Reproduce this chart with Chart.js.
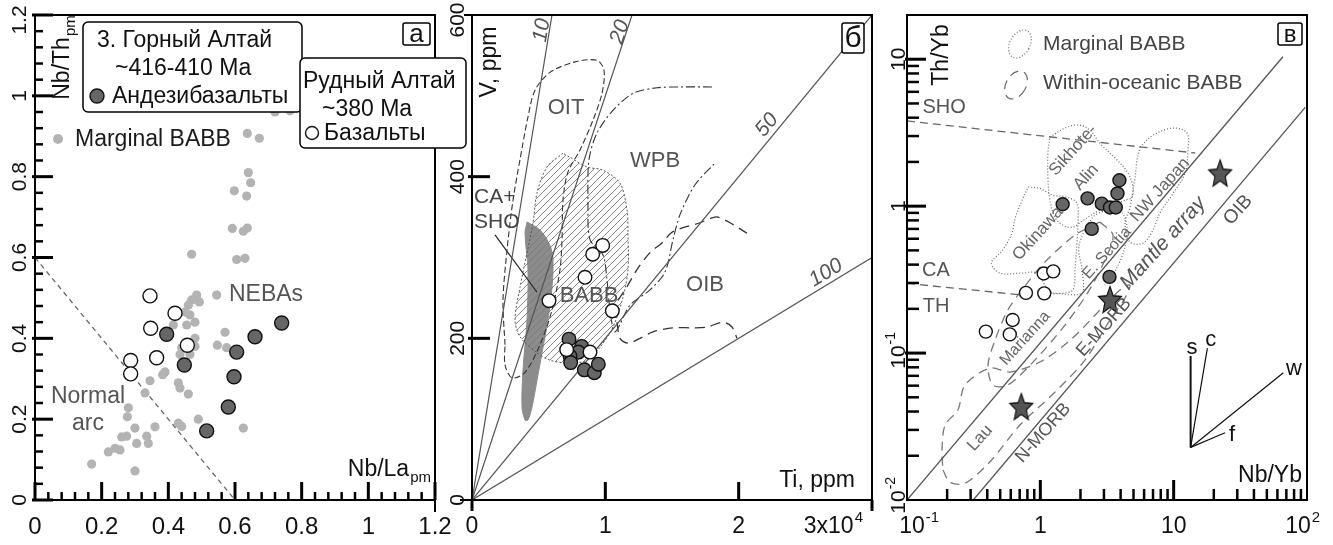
<!DOCTYPE html>
<html>
<head>
<meta charset="utf-8">
<script src="https://cdn.jsdelivr.net/npm/chart.js@4.4.1/dist/chart.umd.min.js"></script>
<style>
html, body { margin: 0; padding: 0; background: #fff; }
#wrap { position: relative; width: 1333px; height: 545px; overflow: hidden; }
canvas { position: absolute; left: 0; top: 0; }
</style>
</head>
<body>
<div id="wrap">
  <canvas id="ca" width="1333" height="545"></canvas>
  <canvas id="cb" width="1333" height="545"></canvas>
  <canvas id="cc" width="1333" height="545"></canvas>
</div>
<script>
// ---------- panel а : Nb/Th_pm vs Nb/La_pm ----------
const aBabbX = [0.637,0.673,0.72,0.765,0.64,0.647,0.598,0.635,0.592,0.637,0.625,0.47,0.605,0.63,
  0.545,0.485,0.47,0.493,0.46,0.45,0.465,0.415,0.48,0.455,0.48,0.57,0.44,0.435,0.48,0.465,0.547,0.575,
  0.39,0.383,0.345,0.43,0.435,0.33,0.46,0.28,0.277,0.49,0.43,0.44,0.30,0.36,0.625,0.275,0.26,0.335,
  0.34,0.305,0.255,0.24,0.22,0.17,0.30];
const aBabbY = [0.907,0.895,0.96,0.963,0.81,0.785,0.765,0.752,0.672,0.673,0.665,0.608,0.595,0.598,
  0.507,0.507,0.495,0.49,0.482,0.465,0.458,0.433,0.44,0.433,0.40,0.415,0.377,0.36,0.38,0.36,0.383,0.377,
  0.317,0.31,0.295,0.29,0.277,0.265,0.262,0.228,0.206,0.20,0.19,0.182,0.178,0.181,0.178,0.158,0.156,0.158,
  0.14,0.14,0.124,0.128,0.119,0.089,0.072];
const aAndesX = [0.74,0.66,0.395,0.605,0.448,0.597,0.58,0.515];
const aAndesY = [0.438,0.404,0.41,0.366,0.334,0.305,0.23,0.171];
const aBasX = [0.345,0.42,0.347,0.457,0.365,0.287,0.287];
const aBasY = [0.505,0.462,0.425,0.383,0.352,0.345,0.312];
const aArcX = [0, 0.6];
const aArcY = [0.6, 0];
const aTicks = [0, 0.2, 0.4, 0.6, 0.8, 1, 1.2];
const aTickLabels = ['0', '0.2', '0.4', '0.6', '0.8', '1', '1.2'];

// ---------- panel б : V vs Ti ----------
const bBasTi = [9800, 9050, 8475, 5775, 10525, 7100, 8850];
const bBasV = [315, 304, 275.5, 246.6, 234, 186, 183];
const bAndesTi = [7275, 8225, 7975, 7350, 7400, 8425, 9175, 9475];
const bAndesV = [199, 190, 183, 178, 170, 161, 157.5, 168];
const bRatios = [10, 20, 50, 100];
const bRatioLabels = ['10', '20', '50', '100'];
const bRatioLabelTi = [5250, 11100, 22125, 26550];
const bRatioLabelV = [581, 579, 464, 281];
const oitTi = [2475,2325,2625,3075,3600,4200,4725,5850,7725,9375,9900,9750,9075,8100,7200,6825,6750,6600,6000,5100,3975,3000,2475,2475];
const oitV = [192,247,309,371,421,474,507,529,542,544,532,503,470,433,406,371,322,285,235,192,158,151,167,192];
const wpbTi = [18000,15600,13875,12075,10575,9375,8775,8700,8850,9825,10125,10350,10725,11850,13350,14475,15075,15600,16725,18225];
const wpbV = [511,511,510,503,482,454,421,371,322,303,272,235,208,241,260,282,322,353,390,417];
const oibUpTi = [10950,11625,12375,13350,14250,15075,17100,18000,18450,19350,20625];
const oibUpV = [247,264,285,306,318,332,343,349,350,343,330];
const oibLoTi = [10875,11100,11700,12600,13575,15075,16575,17625,18825,19500,19875];
const oibLoV = [220,200,194,200,208,213,213,214,220,214,200];
const babbTi = [6825,5625,4875,4575,3600,3225,3600,4875,5850,7350,8625,9600,10575,11325,11700,11700,11625,11100,9825,8625,7350,6825];
const babbV = [429,412,380,343,263,223,202,182,173,169,173,189,214,251,285,330,359,392,408,412,424,429];
const caShoTi = [4125,5100,5850,6075,6000,5700,5250,4875,4500,4200,3975,3750,3825,4125,4200,3975,4125];
const caShoV = [344,334,315,297,263,223,182,148,115,99,99,115,161,223,285,330,344];
const bPtrTi = [1725, 4875];
const bPtrV = [328, 257];
const bXTicks = [0, 10000, 20000];
const bXTickLabels = ['0', '1', '2'];
const bYTicks = [0, 200, 400, 600];
const bYTickLabels = ['0', '200', '400', '600'];

// ---------- panel в : Th/Yb vs Nb/Yb ----------
const cAndesX = [1.47, 2.26, 2.89, 3.33, 3.68, 3.79, 3.92, 2.43, 3.3];
const cAndesY = [1.03, 1.13, 1.04, 0.98, 0.98, 1.22, 1.5, 0.70, 0.33];
const cBasX = [0.78, 1.07, 1.06, 1.25, 0.62, 0.59, 0.39];
const cBasY = [0.257, 0.255, 0.348, 0.36, 0.168, 0.134, 0.14];
const cStarX = [22.3, 3.33, 0.72];      // OIB, E-MORB, N-MORB
const cStarY = [1.67, 0.23, 0.043];
const mantleUpX = [0.1, 66], mantleUpY = [0.01, 10.4];
const mantleLoX = [0.314, 97], mantleLoY = [0.01, 4.7];
const shoCaX = [0.1, 14.5], shoCaY = [3.8, 2.3];
const caThX = [0.1, 0.75], caThY = [0.298, 0.248];
const sikhX = [1.18,1.58,1.98,2.36,2.80,3.76,4.55,4.95,4.87,4.32,2.80,2.09,1.76,1.48,1.29,1.18,1.14,1.14,1.18];
const sikhY = [2.95,3.44,3.56,3.29,2.68,2.06,1.68,1.35,1.15,1.10,0.94,0.80,0.72,0.74,0.84,1.10,1.57,2.30,2.95];
const okinX = [0.81,0.99,1.24,1.58,1.88,1.92,1.88,1.82,1.76,1.48,1.18,0.94,0.73,0.50,0.43,0.52,0.61,0.65,0.73,0.81];
const okinY = [1.35,1.32,1.19,1.15,1.05,0.80,0.56,0.37,0.27,0.256,0.26,0.35,0.35,0.35,0.41,0.50,0.65,0.84,1.10,1.35];
const nwjX = [5.59,7.00,9.89,12.6,12.8,12.2,9.89,7.90,7.00,5.89,4.70,4.32,4.70,5.13,5.31,5.59];
const nwjY = [2.52,3.04,3.40,3.14,2.40,1.68,1.22,0.90,0.69,0.56,0.57,0.77,0.98,1.57,2.06,2.52];
const scotX = [1.24,2.05,2.05,1.95,2.48,3.22,4.10,4.47,4.24,3.69,3.05];
const scotY = [0.256,0.256,0.37,0.54,0.84,0.94,0.90,0.71,0.50,0.37,0.29];
const marX = [2.80,3.51,3.05,2.28,1.53,0.91,0.57,0.44,0.405,0.457,0.57,0.73,1.08,1.82,2.80];
const marY = [0.78,0.635,0.43,0.26,0.155,0.0896,0.0606,0.0606,0.0828,0.122,0.196,0.27,0.416,0.635,0.78];
const lauX = [0.186,0.21,0.272,0.419,0.704,1.29,2.16,3.33,4.32,4.70,3.96,2.80,1.67,0.99,0.59,0.419,0.272,0.241,0.193,0.183,0.186];
const lauY = [0.016,0.0132,0.0130,0.0182,0.0324,0.0543,0.0896,0.168,0.237,0.290,0.269,0.196,0.122,0.0869,0.0743,0.079,0.0606,0.041,0.0324,0.0219,0.016];
const vecX0 = 13.4, vecY0 = 0.0228;
const vecNames = ['s', 'c', 'w', 'f'];
const vecX = [13.4, 17.9, 66.5, 24.3];
const vecY = [0.0955, 0.108, 0.0735, 0.0287];
const vecLabelX = [13.7, 19.0, 79.9, 27.4];
const vecLabelY = [0.108, 0.122, 0.0778, 0.0277];
const cXMajor = [1, 10];
const cYMajor = [0.1, 1, 10];

// ---------- helpers ----------
const FONT = '"Liberation Sans", Arial, sans-serif';
const pts = (xs, ys) => xs.map((x, i) => ({ x: x, y: ys[i] }));

function pointSet(xs, ys, fill, border, r) {
  return {
    data: pts(xs, ys), showLine: false, order: 0,
    pointRadius: r, pointBackgroundColor: fill,
    pointBorderColor: border || fill, pointBorderWidth: border ? 1.4 : 0
  };
}
function lineSet(xs, ys, color, dash, width, extra) {
  return Object.assign({
    data: pts(xs, ys), showLine: true, pointRadius: 0, order: 10,
    borderColor: color, borderWidth: width, borderDash: dash, fill: false, tension: 0
  }, extra || {});
}
function txt(ctx, s, x, y, size, o) {
  o = o || {};
  ctx.save();
  ctx.font = (o.italic ? 'italic ' : '') + (o.bold ? 'bold ' : '') + size + 'px ' + FONT;
  ctx.fillStyle = o.color || '#111';
  ctx.textAlign = o.align || 'center';
  ctx.textBaseline = 'middle';
  ctx.translate(x, y);
  if (o.rot) ctx.rotate(o.rot * Math.PI / 180);
  ctx.fillText(s, 0, 0);
  ctx.restore();
}
// base text followed by a small super/subscript
function rich(ctx, base, small, up, x, y, size, o) {
  o = o || {};
  const ss = Math.round(size * 0.66);
  ctx.save();
  ctx.translate(x, y);
  if (o.rot) ctx.rotate(o.rot * Math.PI / 180);
  ctx.font = size + 'px ' + FONT;
  const w1 = ctx.measureText(base).width;
  ctx.font = ss + 'px ' + FONT;
  const w2 = ctx.measureText(small).width;
  let x0 = -(w1 + w2) / 2;
  if (o.align === 'right') x0 = -(w1 + w2);
  if (o.align === 'left') x0 = 0;
  if (o.align === 'base') x0 = -w1 / 2;
  ctx.fillStyle = o.color || '#111';
  ctx.textAlign = 'left';
  ctx.textBaseline = 'middle';
  ctx.font = size + 'px ' + FONT;
  ctx.fillText(base, x0, 0);
  ctx.font = ss + 'px ' + FONT;
  ctx.fillText(small, x0 + w1 + 1, up ? -size * 0.38 : size * 0.32);
  ctx.restore();
}
function seg(ctx, x1, y1, x2, y2, w, color) {
  ctx.save();
  ctx.beginPath();
  ctx.lineWidth = w;
  ctx.strokeStyle = color || '#000';
  ctx.moveTo(x1, y1);
  ctx.lineTo(x2, y2);
  ctx.stroke();
  ctx.restore();
}
function rbox(ctx, x, y, w, h, r, lw) {
  ctx.save();
  ctx.beginPath();
  if (ctx.roundRect) ctx.roundRect(x, y, w, h, r); else ctx.rect(x, y, w, h);
  ctx.fillStyle = '#fff';
  ctx.fill();
  ctx.lineWidth = lw || 1.5;
  ctx.strokeStyle = '#000';
  ctx.stroke();
  ctx.restore();
}
function dot(ctx, x, y, r, fill, stroke) {
  ctx.save();
  ctx.beginPath();
  ctx.arc(x, y, r, 0, Math.PI * 2);
  ctx.fillStyle = fill;
  ctx.fill();
  if (stroke) { ctx.lineWidth = 1.4; ctx.strokeStyle = stroke; ctx.stroke(); }
  ctx.restore();
}
function frame(ctx, a) {
  ctx.save();
  ctx.lineWidth = 2;
  ctx.strokeStyle = '#000';
  ctx.strokeRect(a.left, a.top, a.right - a.left, a.bottom - a.top);
  ctx.restore();
}
function letterBox(ctx, s, x, y, w, h, size) {
  rbox(ctx, x, y, w, h, 2, 1.5);
  txt(ctx, s, x + w / 2, y + h / 2 + 1, size);
}
function starImage() {
  const c = document.createElement('canvas');
  c.width = 30; c.height = 32;
  const g = c.getContext('2d');
  g.translate(15, 17);
  g.scale(1, 1.2);
  g.beginPath();
  for (let i = 0; i < 10; i++) {
    const ang = -Math.PI / 2 + i * Math.PI / 5;
    const rr = i % 2 ? 5.4 : 12;
    g.lineTo(rr * Math.cos(ang), rr * Math.sin(ang));
  }
  g.closePath();
  g.fillStyle = '#555';
  g.fill();
  g.lineWidth = 1.1;
  g.strokeStyle = '#111';
  g.stroke();
  return c;
}
function hatchPattern() {
  const c = document.createElement('canvas');
  c.width = 7; c.height = 7;
  const g = c.getContext('2d');
  g.strokeStyle = '#7a7a7a';
  g.lineWidth = 0.9;
  g.beginPath();
  g.moveTo(0, 7); g.lineTo(7, 0);
  g.moveTo(-1, 1); g.lineTo(1, -1);
  g.moveTo(6, 8); g.lineTo(8, 6);
  g.stroke();
  return g.createPattern(c, 'repeat');
}
function opts(pad, xScale, yScale) {
  return {
    responsive: false, animation: false, devicePixelRatio: 1, events: [],
    layout: { padding: pad },
    plugins: { legend: { display: false }, tooltip: { enabled: false } },
    scales: { x: xScale, y: yScale }
  };
}

// ---------- panel а ----------
function decoA(chart) {
  const { ctx, chartArea: a, scales: { x, y } } = chart;
  frame(ctx, a);
  seg(ctx, a.right, a.bottom, a.right, a.bottom + 12, 2);
  for (let i = 1; i < 30; i++) {
    if (i % 5 === 0) continue;
    const px = x.getPixelForValue(i * 0.04);
    seg(ctx, px, a.bottom, px, a.bottom - 8, 2.5);
    const py = y.getPixelForValue(i * 0.04);
    seg(ctx, a.left, py, a.left + 8, py, 2.5);
  }
  aTicks.forEach((v, i) => {
    const px = x.getPixelForValue(v), py = y.getPixelForValue(v);
    seg(ctx, px, a.bottom, px, a.bottom - 18, 3);
    seg(ctx, a.left - 3, py, a.left + 18, py, 3);
    txt(ctx, aTickLabels[i], px, a.bottom + 27, 24);
    txt(ctx, aTickLabels[i], a.left - 15, i === aTicks.length - 1 ? py + 5 : py, 21, { rot: -90 });
  });
  rich(ctx, 'Nb/Th', 'pm', false, a.left + 28, a.top + 43, 23, { rot: -90 });
  rich(ctx, 'Nb/La', 'pm', false, a.right - 5, a.bottom - 30, 23, { align: 'right' });
  const g = '#555';
  txt(ctx, 'NEBAs', x.getPixelForValue(0.693), y.getPixelForValue(0.507), 23, { color: g });
  txt(ctx, 'Normal', x.getPixelForValue(0.159), y.getPixelForValue(0.255), 23, { color: g });
  txt(ctx, 'arc', x.getPixelForValue(0.159), y.getPixelForValue(0.188), 23, { color: g });
  // legend
  dot(ctx, a.left + 23, a.top + 124, 5, '#b3b3b3');
  txt(ctx, 'Marginal BABB', a.left + 40, a.top + 125, 23, { align: 'left', color: '#1a1a1a' });
  rbox(ctx, a.left + 48, a.top + 7, 219, 90, 5, 1.5);
  txt(ctx, '3. Горный Алтай', a.left + 62, a.top + 26, 23, { align: 'left' });
  txt(ctx, '~416-410 Ma', a.left + 80, a.top + 54, 23, { align: 'left' });
  dot(ctx, a.left + 62, a.top + 81, 7, '#666', '#111');
  txt(ctx, 'Андезибазальты', a.left + 77, a.top + 82, 23, { align: 'left' });
  rbox(ctx, a.left + 265, a.top + 43, 166, 90, 5, 1.5);
  txt(ctx, 'Рудный Алтай', a.left + 268, a.top + 67, 23, { align: 'left' });
  txt(ctx, '~380 Ma', a.left + 287, a.top + 95, 23, { align: 'left' });
  dot(ctx, a.left + 277, a.top + 118, 6.5, '#fff', '#111');
  txt(ctx, 'Базальты', a.left + 289, a.top + 119, 23, { align: 'left' });
  letterBox(ctx, 'а', a.right - 32, a.top + 8, 27, 22, 26);
}

new Chart(document.getElementById('ca'), {
  type: 'scatter',
  data: {
    datasets: [
      pointSet(aBasX, aBasY, '#fff', '#111', 7),
      pointSet(aAndesX, aAndesY, '#666', '#111', 7),
      Object.assign(pointSet(aBabbX, aBabbY, '#b3b3b3', null, 4.6), { order: 2 }),
      lineSet(aArcX, aArcY, '#666', [5, 4], 1.3)
    ]
  },
  options: opts({ left: 35, top: 15, right: 898, bottom: 45 },
    { type: 'linear', display: false, min: 0, max: 1.2 },
    { type: 'linear', display: false, min: 0, max: 1.2 }),
  plugins: [{ id: 'decoA', afterDatasetsDraw: decoA }]
});

// ---------- panel б ----------
function decoB(chart) {
  const { ctx, chartArea: a, scales: { x, y } } = chart;
  frame(ctx, a);
  bYTicks.forEach((v, i) => {
    const py = y.getPixelForValue(v);
    if (v > 0 && v < 600) seg(ctx, a.left - 4, py, a.left + 18, py, 3);
    let ly = py;
    if (i === bYTicks.length - 1) ly = py + 5;
    txt(ctx, bYTickLabels[i], a.left - 14, ly, 21, { rot: -90 });
  });
  seg(ctx, a.left - 12, a.bottom, a.left, a.bottom, 2);
  seg(ctx, a.left - 8, a.top, a.left, a.top, 2);
  bXTicks.forEach((v, i) => {
    const px = x.getPixelForValue(v);
    if (v > 0) seg(ctx, px, a.bottom, px, a.bottom - 18, 3);
    txt(ctx, bXTickLabels[i], px, a.bottom + 27, 23);
  });
  seg(ctx, a.left, a.bottom, a.left, a.bottom + 11, 3);
  seg(ctx, a.right, a.bottom, a.right, a.bottom + 11, 3);
  rich(ctx, '3x10', '4', true, a.right - 10, a.bottom + 27, 23, { align: 'right' });
  txt(ctx, 'V, ppm', a.left + 18, a.top + 47, 23, { rot: -90 });
  txt(ctx, 'Ti, ppm', a.right - 17, a.bottom - 19, 23, { align: 'right' });
  // ratio labels, rotated along their lines
  bRatios.forEach((r, i) => {
    const ang = Math.atan2(y.getPixelForValue(300) - y.getPixelForValue(0),
      x.getPixelForValue(300 * r) - x.getPixelForValue(0)) * 180 / Math.PI;
    txt(ctx, bRatioLabels[i], x.getPixelForValue(bRatioLabelTi[i]), y.getPixelForValue(bRatioLabelV[i]), 21,
      { rot: ang, italic: true, color: '#555' });
  });
  const g = '#555';
  txt(ctx, 'OIT', x.getPixelForValue(7050), y.getPixelForValue(485), 22, { color: g });
  txt(ctx, 'WPB', x.getPixelForValue(13725), y.getPixelForValue(420), 22, { color: g });
  txt(ctx, 'OIB', x.getPixelForValue(17475), y.getPixelForValue(266), 22, { color: g });
  txt(ctx, 'BABB', x.getPixelForValue(8775), y.getPixelForValue(252), 22, { color: g });
  txt(ctx, 'CA+', x.getPixelForValue(150), y.getPixelForValue(375), 21, { color: '#444', align: 'left' });
  txt(ctx, 'SHO', x.getPixelForValue(150), y.getPixelForValue(344), 21, { color: '#444', align: 'left' });
  letterBox(ctx, 'б', a.right - 30, a.top + 8, 22, 30, 30);
}

const bRatioSets = bRatios.map(r => lineSet([0, Math.min(30000, 600 * r)], [0, Math.min(600, 30000 / r)], '#555', [], 1.2));

new Chart(document.getElementById('cb'), {
  type: 'scatter',
  data: {
    datasets: [
      pointSet(bBasTi, bBasV, '#fff', '#111', 6.8),
      pointSet(bAndesTi, bAndesV, '#666', '#111', 6.8),
      ...bRatioSets,
      lineSet(oitTi, oitV, '#333', [6, 3], 1.1, { tension: 0.3 }),
      lineSet(wpbTi, wpbV, '#333', [9, 3, 2, 3], 1.1, { tension: 0.3 }),
      lineSet(oibUpTi, oibUpV, '#333', [10, 6], 1.3, { tension: 0.3 }),
      lineSet(oibLoTi, oibLoV, '#333', [10, 6], 1.3, { tension: 0.3 }),
      lineSet(babbTi, babbV, '#555', [2, 2], 1, { tension: 0.3, fill: 'shape', backgroundColor: hatchPattern(), order: 11 }),
      lineSet(caShoTi, caShoV, '#8c8c8c', [], 1, { tension: 0.3, fill: 'shape', backgroundColor: '#8c8c8c', order: 12 }),
      lineSet(bPtrTi, bPtrV, '#222', [], 1.2)
    ]
  },
  options: opts({ left: 472, top: 15, right: 461, bottom: 45 },
    { type: 'linear', display: false, min: 0, max: 30000 },
    { type: 'linear', display: false, min: 0, max: 600 }),
  plugins: [{ id: 'decoB', afterDatasetsDraw: decoB }]
});

// ---------- panel в ----------
function decoC(chart) {
  const { ctx, chartArea: a, scales: { x, y } } = chart;
  frame(ctx, a);
  for (let d = -1; d < 2; d++) {
    for (let k = 2; k < 10; k++) {
      const px = x.getPixelForValue(k * Math.pow(10, d));
      seg(ctx, px, a.bottom, px, a.bottom - 11, 2.5);
    }
  }
  cXMajor.forEach(v => {
    const px = x.getPixelForValue(v);
    seg(ctx, px, a.bottom, px, a.bottom - 20, 3);
  });
  for (let d = -2; d < 2; d++) {
    for (let k = 2; k < 10; k++) {
      const v = k * Math.pow(10, d);
      if (v >= 20) continue;
      const py = y.getPixelForValue(v);
      seg(ctx, a.left, py, a.left + 12, py, 2.5);
    }
  }
  cYMajor.forEach(v => {
    const py = y.getPixelForValue(v);
    seg(ctx, a.left - 2, py, a.left + 19, py, 3);
  });
  const bx = a.bottom + 27;
  rich(ctx, '10', '-1', true, x.getPixelForValue(0.1) + 5, bx, 23, { align: 'base' });
  txt(ctx, '1', x.getPixelForValue(1), bx, 23);
  txt(ctx, '10', x.getPixelForValue(10), bx, 23);
  rich(ctx, '10', '2', true, x.getPixelForValue(100) - 9, bx, 23, { align: 'base' });
  const lx = a.left - 8;
  rich(ctx, '10', '-2', true, lx, y.getPixelForValue(0.01) + 2, 21, { rot: -90, align: 'base' });
  rich(ctx, '10', '-1', true, lx, y.getPixelForValue(0.1) + 4, 21, { rot: -90, align: 'base' });
  txt(ctx, '1', lx, y.getPixelForValue(1), 21, { rot: -90 });
  txt(ctx, '10', lx, y.getPixelForValue(10), 21, { rot: -90 });
  txt(ctx, 'Th/Yb', a.left + 35, a.top + 40, 23, { rot: -90 });
  txt(ctx, 'Nb/Yb', a.right - 5, a.bottom - 24, 23, { align: 'right' });
  // legend
  ctx.save();
  ctx.strokeStyle = '#666';
  ctx.lineWidth = 1.2;
  ctx.setLineDash([1, 2]);
  ctx.beginPath();
  ctx.ellipse(a.left + 113, a.top + 29, 10, 15, 0.5, 0, Math.PI * 2);
  ctx.stroke();
  ctx.setLineDash([9, 6]);
  ctx.beginPath();
  ctx.ellipse(a.left + 109, a.top + 70, 10, 15, 0.5, 0, Math.PI * 2);
  ctx.stroke();
  ctx.restore();
  txt(ctx, 'Marginal BABB', a.left + 136, a.top + 29, 21, { align: 'left', color: '#444' });
  txt(ctx, 'Within-oceanic BABB', a.left + 136, a.top + 68, 21, { align: 'left', color: '#444' });
  // field and line labels
  const g = '#555', g2 = '#666';
  const at = (s, vx, vy, size, o) => txt(ctx, s, x.getPixelForValue(vx), y.getPixelForValue(vy), size, o);
  at('SHO', 0.19, 4.71, 20, { color: g });
  at('CA', 0.165, 0.367, 20, { color: g });
  at('TH', 0.165, 0.209, 20, { color: g });
  at('Sikhote-', 1.76, 2.40, 17, { color: g2, rot: -48 });
  at('Alin', 2.20, 1.57, 17, { color: g2, rot: -48 });
  at('NW Japan', 7.90, 1.29, 17, { color: g2, rot: -48 });
  at('Okinawa', 0.96, 0.65, 17, { color: g2, rot: -48 });
  at('E. Scotia', 3.16, 0.48, 16, { color: g2, rot: -48 });
  at('Mantle array', 8.32, 0.56, 21, { color: g, rot: -48, italic: true });
  at('OIB', 30.4, 0.94, 19, { color: g, rot: -48 });
  at('E-MORB', 3.0, 0.150, 18, { color: g, rot: -48 });
  at('N-MORB', 1.05, 0.0286, 18, { color: g, rot: -48 });
  at('Marianna', 0.77, 0.126, 16, { color: g2, rot: -48 });
  at('Lau', 0.353, 0.0264, 17, { color: g2, rot: -48 });
  vecNames.forEach((s, i) => at(s, vecLabelX[i], vecLabelY[i], 22, { color: '#111' }));
  letterBox(ctx, 'в', a.right - 29, a.top + 8, 24, 22, 24);
}

const vecSets = vecNames.map((s, i) => lineSet([vecX0, vecX[i]], [vecY0, vecY[i]], '#111', [], s === 's' ? 2 : 1.2));

new Chart(document.getElementById('cc'), {
  type: 'scatter',
  data: {
    datasets: [
      pointSet(cBasX, cBasY, '#fff', '#111', 6.5),
      pointSet(cAndesX, cAndesY, '#666', '#111', 6.5),
      { data: pts(cStarX, cStarY), showLine: false, order: 0, pointStyle: starImage(), pointRadius: 10 },
      lineSet(mantleUpX, mantleUpY, '#555', [], 1.3),
      lineSet(mantleLoX, mantleLoY, '#555', [], 1.3),
      lineSet(shoCaX, shoCaY, '#666', [8, 5], 1.3),
      lineSet(caThX, caThY, '#666', [8, 5], 1.3),
      lineSet(sikhX, sikhY, '#666', [1, 2], 1.2, { tension: 0.35 }),
      lineSet(okinX, okinY, '#666', [1, 2], 1.2, { tension: 0.35 }),
      lineSet(nwjX, nwjY, '#666', [1, 2], 1.2, { tension: 0.35 }),
      lineSet(scotX, scotY, '#666', [1, 2], 1.2, { tension: 0.3 }),
      lineSet(marX, marY, '#777', [9, 6], 1.3, { tension: 0.3 }),
      lineSet(lauX, lauY, '#777', [9, 6], 1.3, { tension: 0.3 }),
      ...vecSets
    ]
  },
  options: opts({ left: 907, top: 15, right: 26, bottom: 45 },
    { type: 'logarithmic', display: false, min: 0.1, max: 100 },
    { type: 'logarithmic', display: false, min: 0.01, max: 20 }),
  plugins: [{ id: 'decoC', afterDatasetsDraw: decoC }]
});
</script>
</body>
</html>
